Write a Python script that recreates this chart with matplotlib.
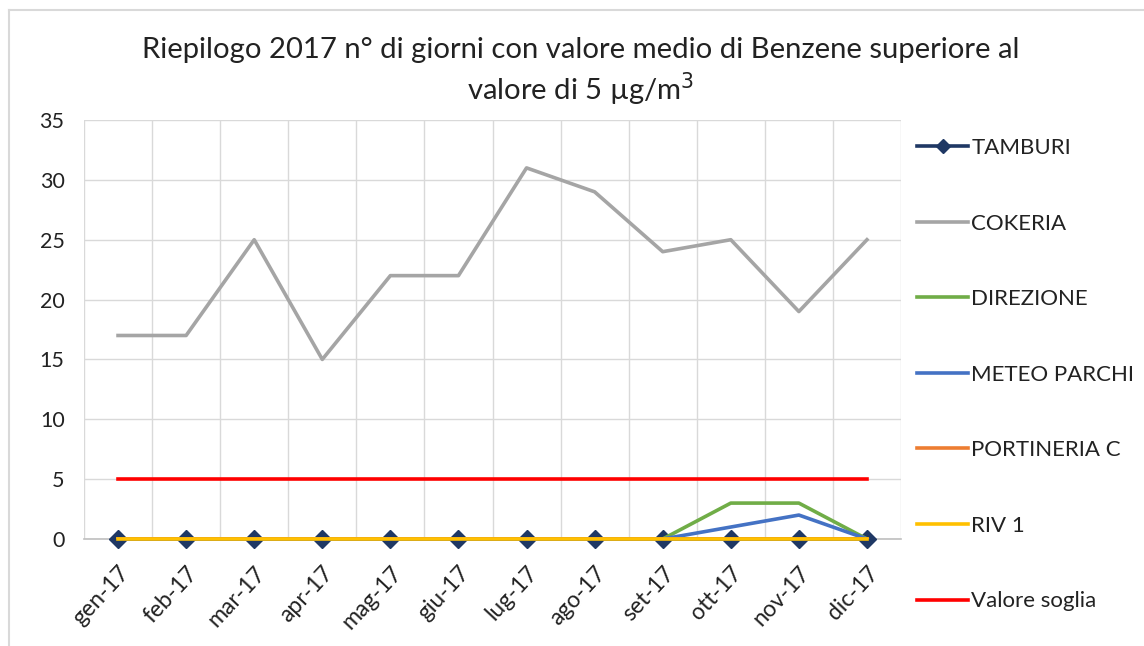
import matplotlib
matplotlib.use("Agg")
import matplotlib.pyplot as plt
from matplotlib.lines import Line2D

months = ["gen-17", "feb-17", "mar-17", "apr-17", "mag-17", "giu-17",
          "lug-17", "ago-17", "set-17", "ott-17", "nov-17", "dic-17"]
tamburi = [0, 0, 0, 0, 0, 0, 0, 0, 0, 0, 0, 0]
cokeria = [17, 17, 25, 15, 22, 22, 31, 29, 24, 25, 19, 25]
direzione = [0, 0, 0, 0, 0, 0, 0, 0, 0, 3, 3, 0]
meteo_parchi = [0, 0, 0, 0, 0, 0, 0, 0, 0, 1, 2, 0]
portineria_c = [0, 0, 0, 0, 0, 0, 0, 0, 0, 0, 0, 0]
riv1 = [0, 0, 0, 0, 0, 0, 0, 0, 0, 0, 0, 0]
soglia = [5, 5, 5, 5, 5, 5, 5, 5, 5, 5, 5, 5]
yticks = [0, 5, 10, 15, 20, 25, 30, 35]

plt.rcParams['font.family'] = ['Lato', 'DejaVu Sans']

W, H = 1144, 646
fig = plt.figure(figsize=(W / 100, H / 100), dpi=100)
ax = fig.add_axes([84 / W, 1 - 539 / H, (901 - 84) / W, (539 - 120) / H])

x = list(range(len(months)))
lw = 2.6
ax.plot(x, tamburi, color="#1F3864", lw=lw, marker="D", markersize=9.5, label="TAMBURI",
        zorder=3, clip_on=False)
ax.plot(x, cokeria, color="#A5A5A5", lw=lw, label="COKERIA", zorder=3)
ax.plot(x, direzione, color="#70AD47", lw=lw, label="DIREZIONE", zorder=3)
ax.plot(x, meteo_parchi, color="#4472C4", lw=lw, label="METEO PARCHI", zorder=3)
ax.plot(x, portineria_c, color="#ED7D31", lw=lw, label="PORTINERIA C", zorder=3)
ax.plot(x, riv1, color="#FFC000", lw=lw, label="RIV 1", zorder=4, clip_on=False)
ax.plot(x, soglia, color="#FF0000", lw=lw, label="Valore soglia", zorder=4)

ax.set_xlim(-0.5, len(months) - 0.5)
ax.set_ylim(0, 35)
ax.set_yticks(yticks)
ax.set_yticklabels([str(v) for v in yticks], fontsize=15.5, color="#222222")
ax.set_xticks(x)
ax.set_xticklabels(months, rotation=47, ha="right", rotation_mode="anchor", fontsize=16.5,
                   color="#222222")
ax.tick_params(axis="y", length=0, pad=14)
ax.tick_params(axis="x", length=0, pad=17)

# gridlines: horizontal at values, vertical at category boundaries
ax.set_xticks([i - 0.5 for i in range(len(months) + 1)], minor=True)
ax.grid(axis="y", which="major", color="#D9D9D9", lw=1)
ax.grid(axis="x", which="minor", color="#D9D9D9", lw=1)
ax.tick_params(which="minor", length=0)
for s in ["top", "right", "left"]:
    ax.spines[s].set_visible(False)
ax.spines["bottom"].set_color("#BFBFBF")
ax.spines["bottom"].set_linewidth(1.2)

fig.text(581 / W, 1 - 50 / H, "Riepilogo 2017 n° di giorni con valore medio di Benzene superiore al",
         ha="center", va="center", fontsize=21.1, color="#222222")
fig.text(581 / W, 1 - 89 / H, "valore di 5 µg/m$^3$", ha="center", va="center", fontsize=21.1,
         color="#222222")

leg = fig.legend(loc="upper left", bbox_to_anchor=(897 / W, 1 - 118 / H), frameon=False,
                 fontsize=16, labelspacing=2.5, handlelength=2.3, handletextpad=0.15,
                 markerscale=0.7)
for t in leg.get_texts():
    t.set_color("#222222")

# outer chart frame
fig.add_artist(Line2D([9 / W, 1], [1 - 10 / H, 1 - 10 / H], color="#D9D9D9", lw=1.5))
fig.add_artist(Line2D([9 / W, 9 / W], [0, 1 - 10 / H], color="#D9D9D9", lw=1.5))

fig.savefig("out.png", dpi=100, facecolor="white")
